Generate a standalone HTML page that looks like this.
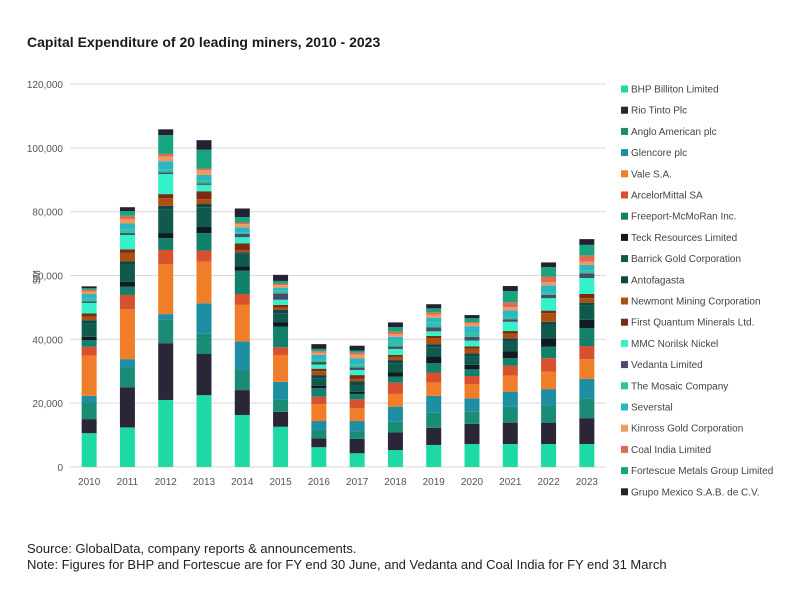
<!DOCTYPE html>
<html><head><meta charset="utf-8"><style>
body{margin:0;background:#fff;font-family:"Liberation Sans",sans-serif}
#wrap{position:relative;width:800px;height:600px;overflow:hidden}
.t{position:absolute;color:#222}
</style></head><body>
<div id="wrap">
<div class="t" style="left:27px;top:34px;font-size:14px;font-weight:bold;color:#1a1a1a">Capital Expenditure of 20 leading miners, 2010 - 2023</div>
<svg id="chart" width="800" height="600" style="position:absolute;left:0;top:0"></svg>
<div class="t" style="left:27px;top:541px;font-size:13px">Source: GlobalData, company reports &amp; announcements.</div>
<div class="t" style="left:27px;top:557px;font-size:13px">Note: Figures for BHP and Fortescue are for FY end 30 June, and Vedanta and Coal India for FY end 31 March</div>
</div>
<script>
const years=["2010","2011","2012","2013","2014","2015","2016","2017","2018","2019","2020","2021","2022","2023"];
const seriesNames=["BHP Billiton Limited","Rio Tinto Plc","Anglo American plc","Glencore plc","Vale S.A.","ArcelorMittal SA","Freeport-McMoRan Inc.","Teck Resources Limited","Barrick Gold Corporation","Antofagasta","Newmont Mining Corporation","First Quantum Minerals Ltd.","MMC Norilsk Nickel","Vedanta Limited","The Mosaic Company","Severstal","Kinross Gold Corporation","Coal India Limited","Fortescue Metals Group Limited","Grupo Mexico S.A.B. de C.V."];
const colors=["#1dd9a3","#2b2538","#1a8c76","#1e8ea2","#f07d28","#d9502e","#12806a","#0f1a22","#0f5a4c","#0d4748","#ad500f","#7a2a15","#34f2c8","#4a4a6c","#2ec4a0","#2bb6c8","#f09a5c","#e06a55","#17a47e","#222233"];
const yTicks=[0,20000,40000,60000,80000,100000,120000];
// values in $M, one array per company (index = year)
const bhp=[10600,12400,21000,22500,16300,12600,6200,4300,5300,6900,7200,7200,7200,7200];
const rio=[4400,12500,17800,12900,7800,4700,2800,4500,5500,5400,6300,6700,6700,8100];
const anglo=[5200,6400,7300,6500,6300,3900,2600,2300,3400,4700,3800,5000,5500,6200];
const glencore=[2100,2500,1800,9400,8900,5500,2800,3300,4700,5300,4200,4700,5000,6100];
const vale=[12600,15600,15700,13100,11500,8400,5300,4000,4000,4200,4500,5000,5500,6200];
const arcelor=[2800,4500,4400,3400,3400,2400,2300,2800,3500,3100,2500,3100,4200,4100];
const freeport=[2100,2600,3700,5500,7300,6500,2700,1700,1900,2900,2100,2400,3600,5600];
const teck=[1000,1500,1600,1900,1300,1400,800,700,1300,2100,1400,2100,2600,2600];
const barrick=[4300,5600,7500,6200,4000,2800,2300,2100,2900,2900,2600,3100,4200,4400];
const antofagasta=[900,800,1000,1000,500,1000,1000,1100,1000,1000,1000,1000,1000,1000];
const newmont=[1100,2800,2400,1500,700,800,1200,800,1000,1800,1500,1500,2700,1400];
const firstQuantum=[1000,1000,1300,2500,2100,800,800,1200,600,800,700,800,800,1300];
const norilsk=[3300,4500,6300,2000,1900,1600,1300,1600,1900,1400,1800,2900,3900,5000];
const vedanta=[500,600,500,500,1000,2000,800,800,800,1300,1200,800,1000,1500];
const mosaic=[800,1000,1000,1000,600,800,800,1000,1500,1400,1300,1000,800,800];
const severstal=[1500,2000,2500,1600,1500,1000,1400,1800,1500,1500,2000,1800,2200,1800];
const kinross=[800,1400,1500,1500,1000,800,700,1200,800,1000,800,1000,1000,1000];
const coalIndia=[500,1000,800,500,500,500,500,600,800,800,500,1500,1800,2000];
const fortescue=[500,1500,5900,5900,1700,800,700,700,1400,1200,1200,3500,2900,3300];
const grupo=[600,1200,1800,3000,2700,1900,1500,1500,1500,1300,1000,1600,1500,1800];
const series=[bhp,rio,anglo,glencore,vale,arcelor,freeport,teck,barrick,antofagasta,newmont,firstQuantum,norilsk,vedanta,mosaic,severstal,kinross,coalIndia,fortescue,grupo];

const svg=document.getElementById('chart');
const NS='http://www.w3.org/2000/svg';
const x0=70,x1=606,yBase=467,yTop=84,yMax=120000;
const yS=v=>yBase-(v/yMax)*(yBase-yTop);
const step=(x1-x0)/years.length;
const xC=i=>x0+step*(i+0.5);
const bw=15;
function mk(t,a){const e=document.createElementNS(NS,t);for(const k in a)e.setAttribute(k,a[k]);svg.appendChild(e);return e;}
yTicks.forEach(v=>{
  const g=mk('line',{x1:x0,x2:x1,y1:yS(v),y2:yS(v),stroke:'#d9d9d9','stroke-width':1});
  
  
  const t=mk('text',{x:63,y:yS(v)+4,'text-anchor':'end','font-size':10,fill:'#555','font-family':'Liberation Sans, sans-serif'});
  t.textContent=v.toLocaleString('en-US');
  
  
});
const yt=mk('text',{x:0,y:0,transform:'translate(40,277) rotate(-90)','text-anchor':'middle','font-size':10,fill:'#555','font-family':'Liberation Sans, sans-serif'});
yt.textContent='$M';


years.forEach((y,i)=>{
  let acc=0;
  series.forEach((s,k)=>{
    const v=s[i];
    const r=mk('rect',{x:xC(i)-bw/2,y:yS(acc+v),width:bw,height:Math.max(0,yS(acc)-yS(acc+v)),fill:colors[k]});
    
    
    acc+=v;
  });
  const t=mk('text',{x:xC(i),y:485,'text-anchor':'middle','font-size':10,fill:'#555','font-family':'Liberation Sans, sans-serif'});
  t.textContent=y;
  
  
});
seriesNames.forEach((n,k)=>{
  const yy=89+k*21.2;
  const m=mk('rect',{x:621,y:yy-3.5,width:7,height:7,fill:colors[k]});
  
  
  const t=mk('text',{x:631,y:yy+3.5,'font-size':10,fill:'#444','font-family':'Liberation Sans, sans-serif'});
  t.textContent=n;
  
  
});
</script>
</body></html>
